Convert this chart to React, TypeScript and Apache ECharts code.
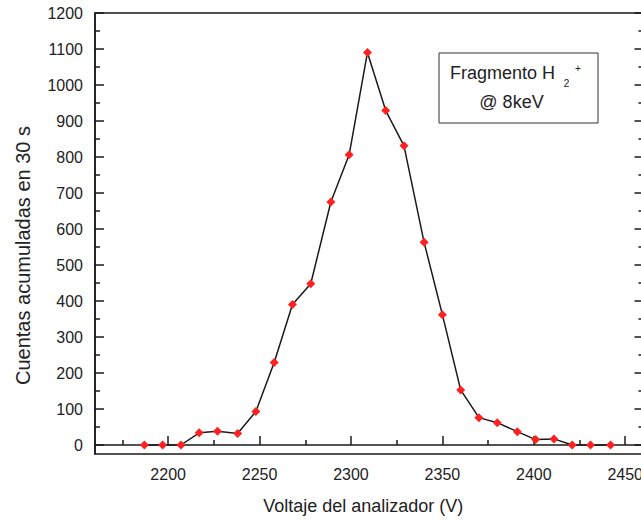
import React, { useEffect, useRef } from 'react';
import * as echarts from 'echarts';

const voltages = [2187, 2197, 2207, 2217, 2227, 2238, 2248, 2258, 2268, 2278, 2289, 2299, 2309, 2319, 2329, 2340, 2350, 2360, 2370, 2380, 2391, 2401, 2411, 2421, 2431, 2442];
const counts = [0, 0, 0, 34, 38, 32, 93, 229, 390, 448, 675, 806, 1090, 929, 831, 563, 362, 153, 76, 62, 37, 15, 17, 0, 0, 0];

const xMajor = [2200, 2250, 2300, 2350, 2400, 2450];
const xMinor = [2175, 2225, 2275, 2325, 2375, 2425];
const yMajor = [0, 100, 200, 300, 400, 500, 600, 700, 800, 900, 1000, 1100, 1200];
const yMinor = [50, 150, 250, 350, 450, 550, 650, 750, 850, 950, 1050, 1150];

const xTitle = 'Voltaje del analizador (V)';
const yTitle = 'Cuentas acumuladas en 30 s';

const FONT = '"Liberation Sans", Arial, sans-serif';
const AXIS = '#1a1a1a';
const TEXT = '#222222';
const plain = (v: number) => String(v);

export default function App() {
  const ref = useRef<HTMLDivElement>(null);
  useEffect(() => {
    const chart = echarts.init(ref.current!, null, { renderer: 'svg' });
    const xRange = { min: 2160, max: 2460 };
    const yRange = { min: -25, max: 1200 };
    const option: any = {
      animation: false,
      backgroundColor: '#ffffff',
      textStyle: { fontFamily: FONT },
      grid: {
        left: 95, top: 13, width: 548.5, height: 441,
        containLabel: false, outerBoundsMode: 'none',
        show: true, borderColor: AXIS, borderWidth: 1.5, backgroundColor: 'transparent',
      },
      xAxis: [
        {
          type: 'value', ...xRange, position: 'bottom',
          axisLine: { show: true, lineStyle: { color: AXIS, width: 1.5 } },
          axisTick: { show: true, inside: true, length: 9, customValues: xMajor, lineStyle: { color: AXIS, width: 1.5 } },
          axisLabel: { customValues: xMajor, formatter: plain, margin: 12, fontSize: 16, color: TEXT, fontFamily: FONT },
          splitLine: { show: false },
          name: xTitle, nameLocation: 'middle', nameGap: 43,
          nameTextStyle: { fontSize: 18, color: TEXT, fontFamily: FONT, padding: [0, 12, 0, 0] },
        },
        {
          type: 'value', ...xRange, position: 'bottom',
          axisLine: { show: false },
          axisTick: { show: true, inside: true, length: 5, customValues: xMinor, lineStyle: { color: AXIS, width: 1.5 } },
          axisLabel: { show: false },
          splitLine: { show: false },
        },
      ],
      yAxis: [
        {
          type: 'value', ...yRange, position: 'left',
          axisLine: { show: true, lineStyle: { color: AXIS, width: 1.5 } },
          axisTick: { show: true, inside: true, length: 9, customValues: yMajor, lineStyle: { color: AXIS, width: 1.5 } },
          axisLabel: { customValues: yMajor, formatter: plain, margin: 12, fontSize: 16, color: TEXT, fontFamily: FONT },
          splitLine: { show: false },
          name: yTitle, nameLocation: 'middle', nameGap: 62,
          nameTextStyle: { fontSize: 20, color: TEXT, fontFamily: FONT, padding: [0, 44, 0, 0] },
        },
        {
          type: 'value', ...yRange, position: 'left',
          axisLine: { show: false },
          axisTick: { show: true, inside: true, length: 5, customValues: yMinor, lineStyle: { color: AXIS, width: 1.5 } },
          axisLabel: { show: false },
          splitLine: { show: false },
        },
        {
          type: 'value', ...yRange, position: 'right',
          axisLine: { show: true, lineStyle: { color: AXIS, width: 1.5 } },
          axisTick: { show: true, inside: true, length: 9, customValues: yMajor, lineStyle: { color: AXIS, width: 1.5 } },
          axisLabel: { show: false },
          splitLine: { show: false },
        },
        {
          type: 'value', ...yRange, position: 'right',
          axisLine: { show: false },
          axisTick: { show: true, inside: true, length: 5, customValues: yMinor, lineStyle: { color: AXIS, width: 1.5 } },
          axisLabel: { show: false },
          splitLine: { show: false },
        },
      ],
      series: [
        {
          type: 'line',
          xAxisIndex: 0, yAxisIndex: 0,
          data: voltages.map((v, i) => [v, counts[i]]),
          symbol: 'diamond', symbolSize: 9, showAllSymbol: true,
          itemStyle: { color: '#ff2020' },
          lineStyle: { color: AXIS, width: 1.5 },
          z: 3,
        },
      ],
      graphic: [
        { type: 'rect', shape: { x: 439, y: 53, width: 159, height: 70 }, style: { fill: '#ffffff', stroke: '#333333', lineWidth: 1 }, z: 10 },
        { type: 'text', x: 450, y: 72.5, style: { text: 'Fragmento H', font: `18px ${FONT}`, fill: TEXT, textAlign: 'left', textVerticalAlign: 'middle' }, z: 11 },
        { type: 'text', x: 566.5, y: 83, style: { text: '2', font: `10px ${FONT}`, fill: TEXT, textAlign: 'center', textVerticalAlign: 'middle' }, z: 11 },
        { type: 'text', x: 578, y: 68, style: { text: '+', font: `10px ${FONT}`, fill: TEXT, textAlign: 'center', textVerticalAlign: 'middle' }, z: 11 },
        { type: 'text', x: 511.5, y: 102, style: { text: '@ 8keV', font: `18px ${FONT}`, fill: TEXT, textAlign: 'center', textVerticalAlign: 'middle' }, z: 11 },
      ],
    };
    chart.setOption(option);
    return () => chart.dispose();
  }, []);
  return <div ref={ref} style={{ position: 'fixed', left: 0, top: 0, width: 641, height: 521, background: '#fff' }} />;
}
